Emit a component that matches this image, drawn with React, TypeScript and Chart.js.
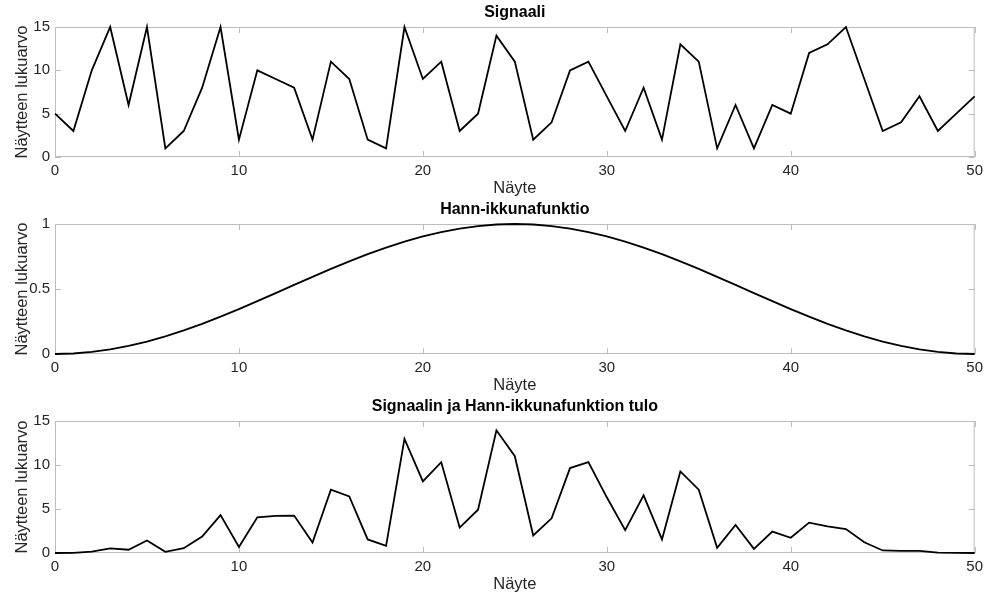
import React, { useEffect, useRef } from "react";
import { Chart, registerables } from "chart.js";

Chart.register(...registerables);

// ---- data ----
const naytteet = [
  0, 1, 2, 3, 4, 5, 6, 7, 8, 9, 10, 11, 12, 13, 14, 15, 16, 17, 18, 19, 20, 21, 22, 23, 24, 25,
  26, 27, 28, 29, 30, 31, 32, 33, 34, 35, 36, 37, 38, 39, 40, 41, 42, 43, 44, 45, 46, 47, 48, 49, 50,
];

const signaali = [
  5, 3, 10, 15, 6, 15, 1, 3, 8, 15,
  2, 10, 9, 8, 2, 11, 9, 2, 1, 15,
  9, 11, 3, 5, 14, 11, 2, 4, 10, 11,
  7, 3, 8, 2, 13, 11, 1, 6, 1, 6,
  5, 12, 13, 15, 9, 3, 4, 7, 3, 5,
  7,
];

const hann = [
  0, 0.0039, 0.0157, 0.0351, 0.0618, 0.0955, 0.1355, 0.1813, 0.2321, 0.2871,
  0.3455, 0.4063, 0.4686, 0.5314, 0.5937, 0.6545, 0.7129, 0.7679, 0.8187, 0.8645,
  0.9045, 0.9382, 0.9649, 0.9843, 0.9961, 1, 0.9961, 0.9843, 0.9649, 0.9382,
  0.9045, 0.8645, 0.8187, 0.7679, 0.7129, 0.6545, 0.5937, 0.5314, 0.4686, 0.4063,
  0.3455, 0.2871, 0.2321, 0.1813, 0.1355, 0.0955, 0.0618, 0.0351, 0.0157, 0.0039,
  0,
];

const tulo = [
  0, 0.01, 0.16, 0.53, 0.37, 1.43, 0.14, 0.54, 1.86, 4.31,
  0.69, 4.06, 4.22, 4.25, 1.19, 7.2, 6.42, 1.54, 0.82, 12.97,
  8.14, 10.32, 2.89, 4.92, 13.94, 11.0, 1.99, 3.94, 9.65, 10.32,
  6.33, 2.59, 6.55, 1.54, 9.27, 7.2, 0.59, 3.19, 0.47, 2.44,
  1.73, 3.45, 3.02, 2.72, 1.22, 0.29, 0.25, 0.25, 0.05, 0.02,
  0,
];

const otsikot = ["Signaali", "Hann-ikkunafunktio", "Signaalin ja Hann-ikkunafunktion tulo"];
const xOtsikko = "Näyte";
const yOtsikko = "Näytteen lukuarvo";
const xTicks = [0, 10, 20, 30, 40, 50];
const yTicksSignal = [0, 5, 10, 15];
const yTicksHann = [0, 0.5, 1];

// ---- styling ----
const FONT = "'Liberation Sans', Arial, Helvetica, sans-serif";
const TEXT = "#262626";
const FRAME = "#bdbdbd";

const framePlugin = {
  id: "matlabFrame",
  beforeDatasetsDraw(chart: any) {
    const { ctx, chartArea: a, scales } = chart;
    ctx.save();
    ctx.strokeStyle = FRAME;
    ctx.lineWidth = 1;
    ctx.strokeRect(a.left + 0.5, a.top + 0.5, a.right - a.left - 1, a.bottom - a.top - 1);
    const L = 6;
    ctx.beginPath();
    for (const t of scales.x.ticks) {
      const px = Math.round(scales.x.getPixelForValue(t.value)) + 0.5;
      ctx.moveTo(px, a.bottom);
      ctx.lineTo(px, a.bottom - L);
      ctx.moveTo(px, a.top);
      ctx.lineTo(px, a.top + L);
    }
    for (const t of scales.y.ticks) {
      const py = Math.round(scales.y.getPixelForValue(t.value)) + 0.5;
      ctx.moveTo(a.left, py);
      ctx.lineTo(a.left + L, py);
      ctx.moveTo(a.right, py);
      ctx.lineTo(a.right - L, py);
    }
    ctx.stroke();
    ctx.restore();
  },
};

type PanelProps = {
  title: string;
  values: number[];
  yMax: number;
  yTicks: number[];
  top: number;
  height: number;
};

function Panel({ title, values, yMax, yTicks, top, height }: PanelProps) {
  const ref = useRef<HTMLCanvasElement | null>(null);
  useEffect(() => {
    if (!ref.current) return;
    const chart = new Chart(ref.current, {
      type: "line",
      data: {
        datasets: [
          {
            data: naytteet.map((n, i) => ({ x: n, y: values[i] })),
            borderColor: "#000000",
            borderWidth: 1.8,
            pointRadius: 0,
            tension: 0,
            fill: false,
            clip: 4,
          },
        ],
      },
      options: {
        animation: false,
        responsive: false,
        devicePixelRatio: 1,
        layout: { padding: { left: 0, right: 13, top: 0, bottom: 0 } },
        plugins: {
          legend: { display: false },
          tooltip: { enabled: false },
          title: {
            display: true,
            text: title,
            fullSize: false,
            color: "#000000",
            font: { family: FONT, size: 16, weight: "bold", lineHeight: 1.2 },
            padding: { top: 3, bottom: 4.8 },
          },
        },
        scales: {
          x: {
            type: "linear",
            min: 0,
            max: 50,
            afterBuildTicks: (s: any) => {
              s.ticks = xTicks.map((v) => ({ value: v }));
            },
            afterFit: (s: any) => {
              s.height = 40;
            },
            grid: { display: false, drawTicks: false },
            border: { display: false },
            ticks: {
              color: TEXT,
              padding: 5,
              maxRotation: 0,
              autoSkip: false,
              callback: (v: any) => String(v),
              font: { family: FONT, size: 15, lineHeight: 1.2 },
            },
            title: {
              display: true,
              text: xOtsikko,
              color: TEXT,
              font: { family: FONT, size: 16.5, lineHeight: 1 },
              padding: { top: 0, bottom: 0 },
            },
          },
          y: {
            type: "linear",
            min: 0,
            max: yMax,
            afterBuildTicks: (s: any) => {
              s.ticks = yTicks.map((v) => ({ value: v }));
            },
            afterFit: (s: any) => {
              s.width = 55;
            },
            grid: { display: false, drawTicks: false },
            border: { display: false },
            ticks: {
              color: TEXT,
              padding: 5,
              autoSkip: false,
              callback: (v: any) => String(v),
              font: { family: FONT, size: 15, lineHeight: 1.2 },
            },
            title: {
              display: true,
              text: yOtsikko,
              color: TEXT,
              font: { family: FONT, size: 16.5, lineHeight: 1 },
              padding: { top: 14, bottom: 0 },
            },
          },
        },
      },
      plugins: [framePlugin],
    } as any);
    return () => chart.destroy();
  }, [title, values, yMax, yTicks]);

  return (
    <canvas
      ref={ref}
      width={988}
      height={height}
      style={{ position: "absolute", left: 0, top, width: 988, height }}
    />
  );
}

export default function App() {
  return (
    <div
      style={{
        position: "fixed",
        left: 0,
        top: 0,
        width: 988,
        height: 593,
        background: "#ffffff",
        overflow: "hidden",
      }}
    >
      <Panel title={otsikot[0]} values={signaali} yMax={15} yTicks={yTicksSignal} top={0} height={197} />
      <Panel title={otsikot[1]} values={hann} yMax={1} yTicks={yTicksHann} top={197} height={197} />
      <Panel title={otsikot[2]} values={tulo} yMax={15} yTicks={yTicksSignal} top={394} height={199} />
    </div>
  );
}
